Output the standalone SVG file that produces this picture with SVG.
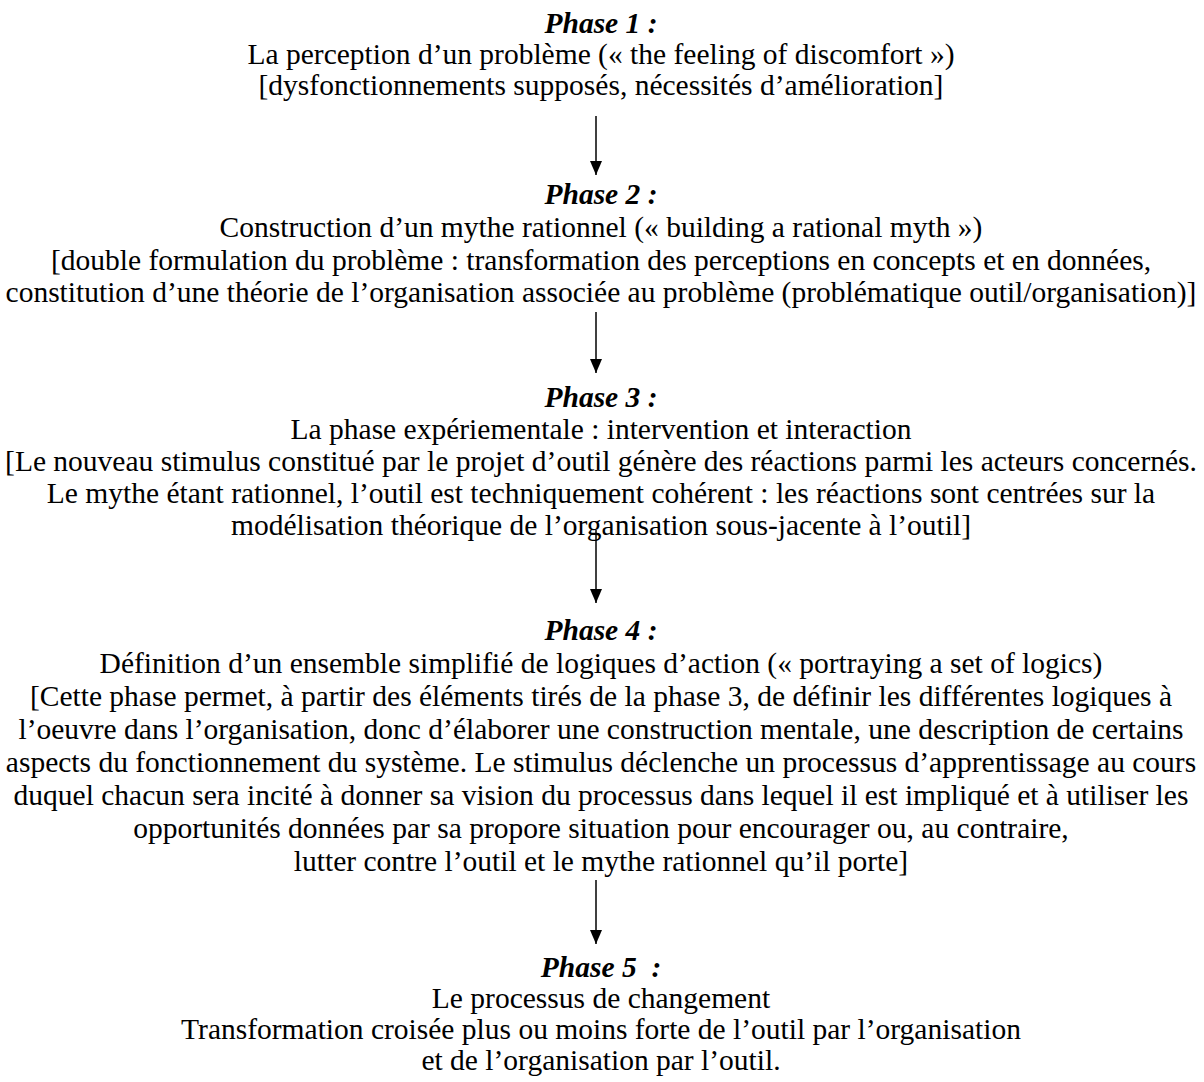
<svg xmlns="http://www.w3.org/2000/svg" width="1204" height="1082" viewBox="0 0 1204 1082">
<style>
  .t { font-family: 'Liberation Serif', 'DejaVu Serif', serif; font-size: 29.5px; fill: #000; text-anchor: middle; }
  .ph { font-weight: bold; font-style: italic; }
  .conn line { stroke: #000; stroke-width: 1.5; }
</style>
<defs>
  <marker id="ah" markerUnits="userSpaceOnUse" markerWidth="14" markerHeight="12" refX="14" refY="6" orient="auto" viewBox="0 0 14 12">
    <path d="M0,0 L14,6 L0,12 Z" fill="#000"/>
  </marker>
</defs>
<rect width="1204" height="1082" fill="#fff"/>
<g id="phase1" class="t" font-family="Liberation Serif, DejaVu Serif, serif">
  <text class="ph" x="601" y="33">Phase 1 :</text>
  <text x="601" y="64">La perception d’un problème (« the feeling of discomfort »)</text>
  <text x="601" y="95">[dysfonctionnements supposés, nécessités d’amélioration]</text>
</g>
<g id="phase2" class="t" font-family="Liberation Serif, DejaVu Serif, serif">
  <text class="ph" x="601" y="204">Phase 2 :</text>
  <text x="601" y="237">Construction d’un mythe rationnel (« building a rational myth »)</text>
  <text x="601" y="270">[double formulation du problème : transformation des perceptions en concepts et en données,</text>
  <text x="601" y="302">constitution d’une théorie de l’organisation associée au problème (problématique outil/organisation)]</text>
</g>
<g id="phase3" class="t" font-family="Liberation Serif, DejaVu Serif, serif">
  <text class="ph" x="601" y="407">Phase 3 :</text>
  <text x="601" y="439">La phase expériementale : intervention et interaction</text>
  <text x="601" y="471">[Le nouveau stimulus constitué par le projet d’outil génère des réactions parmi les acteurs concernés.</text>
  <text x="601" y="503">Le mythe étant rationnel, l’outil est techniquement cohérent : les réactions sont centrées sur la</text>
  <text x="601" y="535">modélisation théorique de l’organisation sous-jacente à l’outil]</text>
</g>
<g id="phase4" class="t" font-family="Liberation Serif, DejaVu Serif, serif">
  <text class="ph" x="601" y="640">Phase 4 :</text>
  <text x="601" y="673">Définition d’un ensemble simplifié de logiques d’action (« portraying a set of logics)</text>
  <text x="601" y="706">[Cette phase permet, à partir des éléments tirés de la phase 3, de définir les différentes logiques à</text>
  <text x="601" y="739">l’oeuvre dans l’organisation, donc d’élaborer une construction mentale, une description de certains</text>
  <text x="601" y="772">aspects du fonctionnement du système. Le stimulus déclenche un processus d’apprentissage au cours</text>
  <text x="601" y="805">duquel chacun sera incité à donner sa vision du processus dans lequel il est impliqué et à utiliser les</text>
  <text x="601" y="838">opportunités données par sa propore situation pour encourager ou, au contraire,</text>
  <text x="601" y="871">lutter contre l’outil et le mythe rationnel qu’il porte]</text>
</g>
<g id="phase5" class="t" font-family="Liberation Serif, DejaVu Serif, serif">
  <text class="ph" x="601" y="977">Phase 5&#160; :</text>
  <text x="601" y="1008">Le processus de changement</text>
  <text x="601" y="1039">Transformation croisée plus ou moins forte de l’outil par l’organisation</text>
  <text x="601" y="1070">et de l’organisation par l’outil.</text>
</g>
<g id="connectors" class="conn">
  <line x1="596" y1="116" x2="596" y2="175" marker-end="url(#ah)"/>
  <line x1="596" y1="312" x2="596" y2="373" marker-end="url(#ah)"/>
  <line x1="596" y1="530" x2="596" y2="603" marker-end="url(#ah)"/>
  <line x1="596" y1="880" x2="596" y2="944" marker-end="url(#ah)"/>
</g>
</svg>
